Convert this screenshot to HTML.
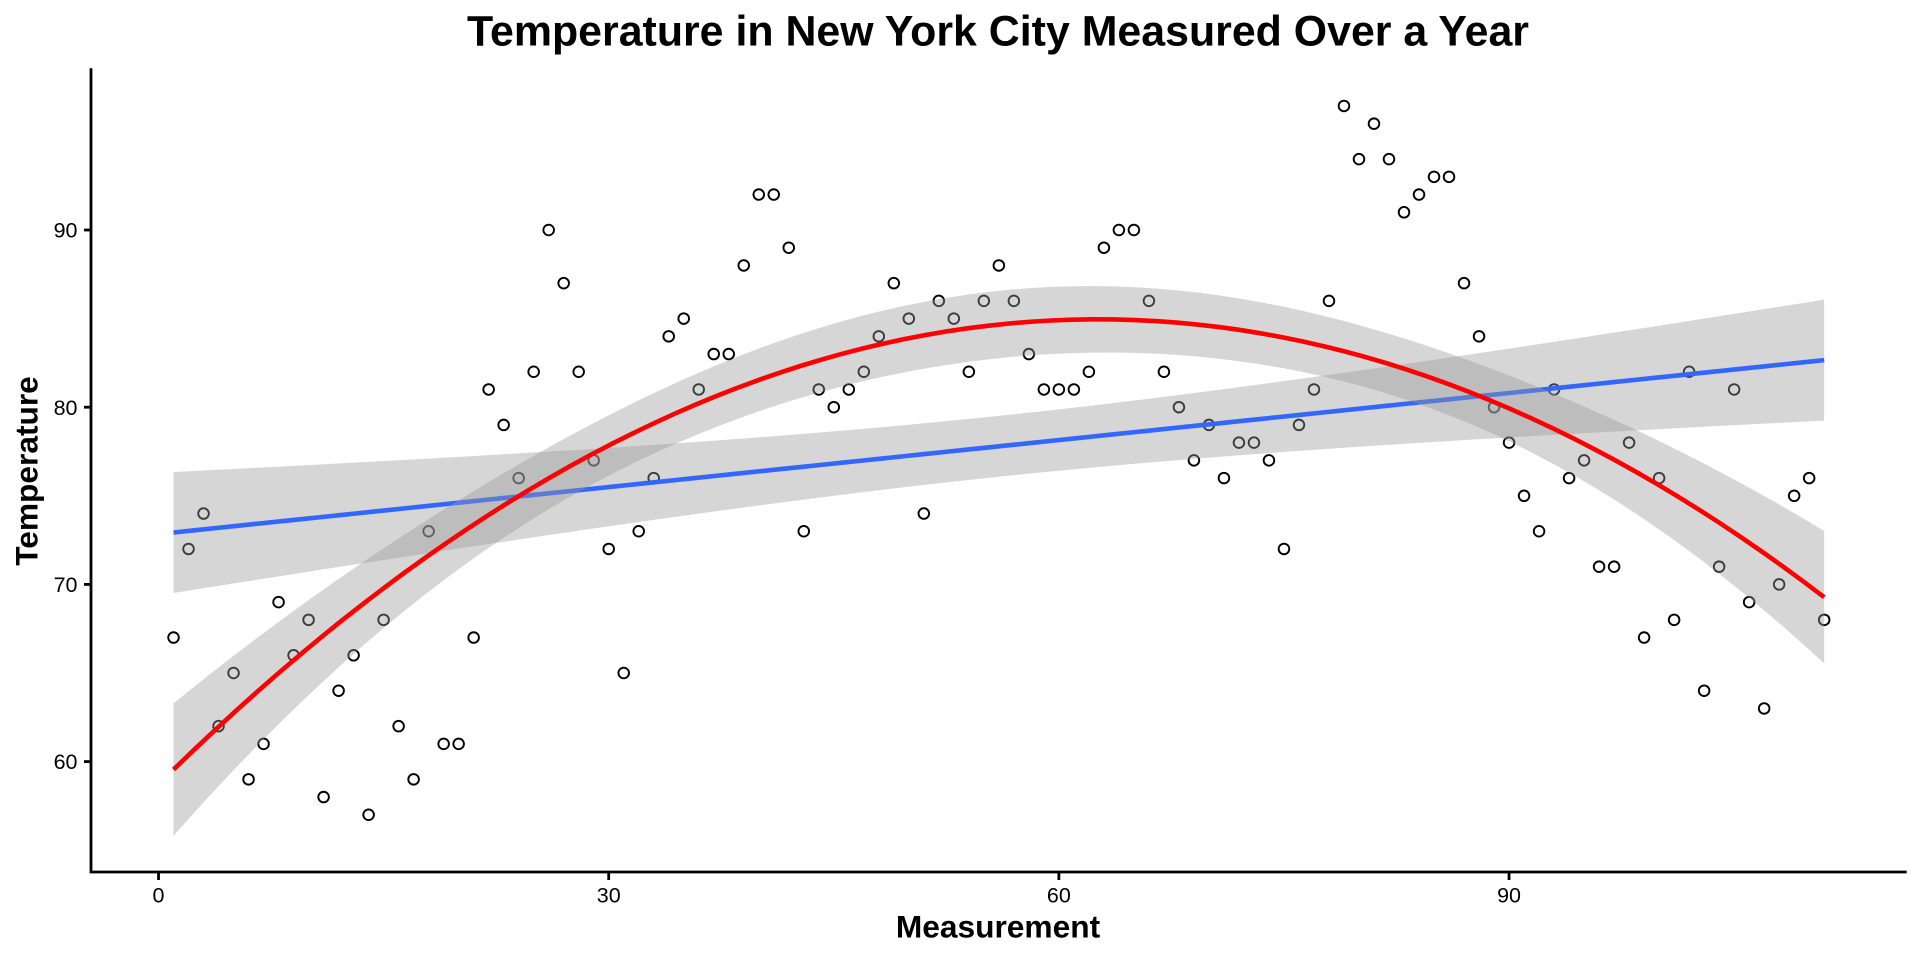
<!DOCTYPE html>
<html>
<head>
<meta charset="utf-8">
<style>
  html, body { margin: 0; padding: 0; background: #ffffff; }
  body { width: 1920px; height: 960px; overflow: hidden; }
  svg { display: block; }
  text { font-family: "Liberation Sans", Arial, Helvetica, sans-serif; }
</style>
</head>
<body>
<svg id="chart" width="1920" height="960" viewBox="0 0 1920 960" xmlns="http://www.w3.org/2000/svg">
  <rect x="0" y="0" width="1920" height="960" fill="#ffffff"/>
  <g id="points"></g>
  <g id="smooths"></g>
  <!-- axes -->
  <path d="M91,68.3 L91,872 L1906.7,872" fill="none" stroke="#000" stroke-width="2.8" stroke-linejoin="miter"/>
  <g id="ticks" stroke="#000" stroke-width="2.8"></g>
  <g id="ticklabels" font-size="21.5" fill="#000"></g>
  <!-- titles -->
  <text x="998" y="45.7" text-anchor="middle" font-size="43" font-weight="bold" fill="#000" textLength="1062" lengthAdjust="spacingAndGlyphs">Temperature in New York City Measured Over a Year</text>
  <text x="998" y="937.3" text-anchor="middle" font-size="31.7" font-weight="bold" fill="#000">Measurement</text>
  <text x="37.5" y="471" text-anchor="middle" font-size="31.7" font-weight="bold" fill="#000" transform="rotate(-90 37.5 471)">Temperature</text>
</svg>
<script>
(function(){
  var NS = "http://www.w3.org/2000/svg";
  var T = [67,72,74,62,65,59,61,69,66,68,
           58,64,66,57,68,62,59,73,61,61,
           67,81,79,76,82,90,87,82,77,72,
           65,73,76,84,85,81,83,83,88,92,
           92,89,73,81,80,81,82,84,87,85,
           74,86,85,82,86,88,86,83,81,81,
           81,82,89,90,90,86,82,80,77,79,
           76,78,78,77,72,79,81,86,97,94,
           96,94,91,92,93,93,87,84,80,78,
           75,73,81,76,77,71,71,78,67,76,
           68,82,64,71,81,69,63,70,75,76,68];
  var n = T.length;

  // scales
  var XL = 91, XR = 1906.7, xmin = -4.5, xmax = 116.5;
  function px(x){ return XL + (x - xmin) * (XR - XL) / (xmax - xmin); }
  function py(v){ return 230 + (90 - v) * 17.72; }

  function el(name, attrs, parent){
    var e = document.createElementNS(NS, name);
    for (var k in attrs) e.setAttribute(k, attrs[k]);
    if (parent) parent.appendChild(e);
    return e;
  }

  function invert(M){
    var p = M.length, A = [], i, j, k;
    for (i = 0; i < p; i++){ A.push(M[i].slice()); for (j = 0; j < p; j++) A[i].push(i === j ? 1 : 0); }
    for (i = 0; i < p; i++){
      var piv = i;
      for (k = i+1; k < p; k++) if (Math.abs(A[k][i]) > Math.abs(A[piv][i])) piv = k;
      var tmp = A[i]; A[i] = A[piv]; A[piv] = tmp;
      var d = A[i][i];
      for (j = 0; j < 2*p; j++) A[i][j] /= d;
      for (k = 0; k < p; k++){
        if (k === i) continue;
        var f = A[k][i];
        for (j = 0; j < 2*p; j++) A[k][j] -= f * A[i][j];
      }
    }
    var R = [];
    for (i = 0; i < p; i++) R.push(A[i].slice(p));
    return R;
  }

  function fit(deg){
    var p = deg + 1, X = [], i, a, b, k;
    function row(x0){ var x = (x0 - 56) / 55, r = []; for (k = 0; k < p; k++) r.push(Math.pow(x, k)); return r; }
    for (i = 0; i < n; i++) X.push(row(i+1));
    var A = [];
    for (a = 0; a < p; a++){ A.push([]); for (b = 0; b < p; b++){ var s = 0; for (i = 0; i < n; i++) s += X[i][a]*X[i][b]; A[a].push(s); } }
    var inv = invert(A);
    var Xty = [];
    for (a = 0; a < p; a++){ var s2 = 0; for (i = 0; i < n; i++) s2 += X[i][a]*T[i]; Xty.push(s2); }
    var beta = [];
    for (a = 0; a < p; a++){ var s3 = 0; for (b = 0; b < p; b++) s3 += inv[a][b]*Xty[b]; beta.push(s3); }
    var rss = 0;
    for (i = 0; i < n; i++){ var f = 0; for (a = 0; a < p; a++) f += X[i][a]*beta[a]; rss += (T[i]-f)*(T[i]-f); }
    var sigma = Math.sqrt(rss / (n - p));
    return function(x0){
      var r = row(x0), f = 0, q = 0;
      for (a = 0; a < p; a++) f += r[a]*beta[a];
      for (a = 0; a < p; a++) for (b = 0; b < p; b++) q += r[a]*inv[a][b]*r[b];
      return [f, sigma*Math.sqrt(q)];
    };
  }

  // points
  var gp = document.getElementById("points");
  for (var i = 0; i < n; i++){
    el("circle", {cx: px(i+1).toFixed(2), cy: py(T[i]).toFixed(2), r: 5.3, fill: "none", stroke: "#000", "stroke-width": 1.9}, gp);
  }

  // smooths
  var gs = document.getElementById("smooths");
  function drawSmooth(deg, tq, color){
    var f = fit(deg), N = 80, xs = [], fv = [], lo = [], hi = [];
    for (var j = 0; j < N; j++){
      var x = 1 + (111 - 1) * j / (N - 1);
      var r = f(x);
      xs.push(x); fv.push(r[0]); lo.push(r[0] - tq*r[1]); hi.push(r[0] + tq*r[1]);
    }
    var d = "";
    for (j = 0; j < N; j++) d += (j ? "L" : "M") + px(xs[j]).toFixed(2) + "," + py(hi[j]).toFixed(2);
    for (j = N-1; j >= 0; j--) d += "L" + px(xs[j]).toFixed(2) + "," + py(lo[j]).toFixed(2);
    d += "Z";
    el("path", {d: d, fill: "#999999", "fill-opacity": 0.4, stroke: "none"}, gs);
    var dl = "";
    for (j = 0; j < N; j++) dl += (j ? "L" : "M") + px(xs[j]).toFixed(2) + "," + py(fv[j]).toFixed(2);
    el("path", {d: dl, fill: "none", stroke: color, "stroke-width": 4.6, "stroke-linejoin": "round", "stroke-linecap": "butt"}, gs);
  }
  drawSmooth(1, 1.981967, "#3366FF");
  drawSmooth(2, 1.982173, "#FF0000");

  // ticks and labels
  var gt = document.getElementById("ticks"), gl = document.getElementById("ticklabels");
  [60,70,80,90].forEach(function(v){
    var y = py(v);
    el("line", {x1: 84, y1: y, x2: 91, y2: y}, gt);
    var t = el("text", {x: 77.5, y: (y + 7.6).toFixed(2), "text-anchor": "end"}, gl);
    t.textContent = String(v);
  });
  [0,30,60,90].forEach(function(v){
    var x = px(v);
    el("line", {x1: x, y1: 872, x2: x, y2: 880}, gt);
    var t = el("text", {x: x.toFixed(2), y: 902.3, "text-anchor": "middle"}, gl);
    t.textContent = String(v);
  });
})();
</script>
</body>
</html>
